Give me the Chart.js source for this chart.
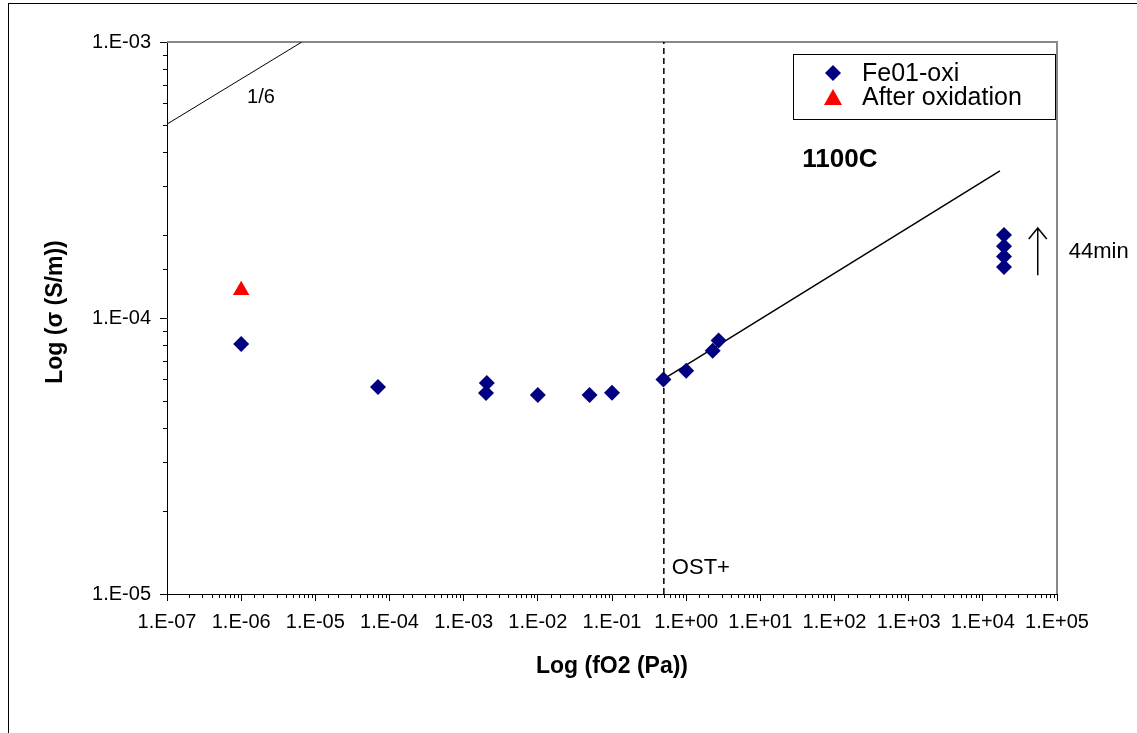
<!DOCTYPE html>
<html>
<head>
<meta charset="utf-8">
<script src="https://cdn.jsdelivr.net/npm/chart.js@4/dist/chart.umd.min.js"></script>
<style>
  html, body { margin:0; padding:0; background:#fff; }
  #wrap { position:relative; width:1137px; height:733px; }
  #frame { position:absolute; left:8px; top:3px; width:1140px; height:740px; border:1px solid #000; box-sizing:border-box; pointer-events:none; }
</style>
</head>
<body>
<div id="wrap">
  <canvas id="c" width="1137" height="733"></canvas>
  <div id="frame"></div>
</div>
<script>
// Fe01-oxi measurements, 1100C
const fo2Pa    = [1e-6, 7.0e-5, 2.05e-3, 2.0e-3, 1e-2, 4.98e-2, 1e-1, 0.494, 1.0, 2.28, 2.74, 1.93e4, 1.93e4, 1.93e4, 1.93e4];
const sigmaSm  = [8.05e-5, 5.62e-5, 5.81e-5, 5.35e-5, 5.26e-5, 5.26e-5, 5.36e-5, 5.99e-5, 6.44e-5, 7.61e-5, 8.28e-5, 2.0e-4, 1.82e-4, 1.67e-4, 1.53e-4];

// after oxidation
const fo2After   = [1e-6];
const sigmaAfter = [1.26e-4];

// fitted 1/6 line through the high-fO2 points
const fitX = [0.494, 1.7e4];
const fitY = [6.0e-5, 3.41e-4];

// reference slope 1/6 (top-left)
const refX = [1e-7, 6.58e-6];
const refY = [5.04e-4, 1e-3];

// OST+ boundary
const ostX = [0.5, 0.5];
const ostY = [1e-5, 1e-3];

// arrow (44min drift)
const arrowX = [5.5e4, 5.5e4];
const arrowY = [1.43e-4, 2.12e-4];

const xTicks = ['1.E-07','1.E-06','1.E-05','1.E-04','1.E-03','1.E-02','1.E-01','1.E+00','1.E+01','1.E+02','1.E+03','1.E+04','1.E+05'];
const yTicks = ['1.E-05','1.E-04','1.E-03'];

const pts = (xs, ys) => xs.map((x,i)=>({x, y: ys[i]}));
const isDecade = v => Math.abs(Math.log10(v) - Math.round(Math.log10(v))) < 1e-6;
const FONT = '"Liberation Sans", Arial, sans-serif';

function decadeLabel(v, list){
  const e = Math.round(Math.log10(v));
  const s = (e < 0 ? '-' : '+') + String(Math.abs(e)).padStart(2,'0');
  const lab = '1.E' + s;
  return list.includes(lab) ? lab : '';
}

const extras = {
  id: 'extras',
  beforeDatasetsDraw(chart){
    const {ctx, chartArea:a} = chart;
    ctx.save();
    ctx.strokeStyle = '#888'; ctx.lineWidth = 2;
    ctx.beginPath();
    ctx.moveTo(a.left, a.top); ctx.lineTo(a.right, a.top); ctx.lineTo(a.right, a.bottom);
    ctx.stroke();
    ctx.restore();
  },
  afterDraw(chart){
    const {ctx, chartArea:a, scales:{x, y}} = chart;
    ctx.save();
    // minor ticks
    ctx.strokeStyle = '#000'; ctx.lineWidth = 1;
    ctx.beginPath();
    x.ticks.forEach(t => { if (!isDecade(t.value)) { const px = Math.round(x.getPixelForValue(t.value)) + 0.5; ctx.moveTo(px, a.bottom); ctx.lineTo(px, a.bottom + 4); } });
    y.ticks.forEach(t => { if (!isDecade(t.value)) { const py = Math.round(y.getPixelForValue(t.value)) + 0.5; ctx.moveTo(a.left, py); ctx.lineTo(a.left - 4, py); } });
    ctx.stroke();

    // arrow
    const ax = x.getPixelForValue(arrowX[0]);
    const y0 = y.getPixelForValue(arrowY[0]), y1 = y.getPixelForValue(arrowY[1]);
    ctx.lineWidth = 1.5;
    ctx.beginPath();
    ctx.moveTo(ax, y0); ctx.lineTo(ax, y1);
    ctx.moveTo(ax - 9, y1 + 11); ctx.lineTo(ax, y1); ctx.lineTo(ax + 9, y1 + 11);
    ctx.stroke();

    // texts
    ctx.fillStyle = '#000';
    ctx.textBaseline = 'middle';
    ctx.textAlign = 'left';
    ctx.font = '22px ' + FONT;
    ctx.fillText('44min', ax + 31, (y0 + y1) / 2);
    ctx.font = '20px ' + FONT;
    ctx.fillText('1/6', x.getPixelForValue(1.2e-6), y.getPixelForValue(6.27e-4));
    ctx.font = '22px ' + FONT;
    ctx.fillText('OST+', x.getPixelForValue(0.5) + 8, y.getPixelForValue(1.24e-5));
    ctx.font = 'bold 26px ' + FONT;
    ctx.fillText('1100C', x.getPixelForValue(36.8), y.getPixelForValue(3.74e-4));

    // legend
    ctx.fillStyle = '#fff';
    ctx.fillRect(793, 54, 263, 66);
    ctx.strokeStyle = '#000'; ctx.lineWidth = 1;
    ctx.strokeRect(793.5, 54.5, 262, 65);
    ctx.fillStyle = '#000080';
    ctx.beginPath(); ctx.moveTo(833, 65); ctx.lineTo(841, 73); ctx.lineTo(833, 81); ctx.lineTo(825, 73); ctx.closePath(); ctx.fill();
    ctx.fillStyle = '#ff0000';
    ctx.beginPath(); ctx.moveTo(833, 89); ctx.lineTo(842, 105); ctx.lineTo(824, 105); ctx.closePath(); ctx.fill();
    ctx.fillStyle = '#000';
    ctx.font = '25px ' + FONT;
    ctx.fillText('Fe01-oxi', 862, 74);
    ctx.fillText('After oxidation', 862, 98);

    // axis titles
    ctx.font = 'bold 23px ' + FONT;
    ctx.textAlign = 'center';
    ctx.fillText('Log (fO2 (Pa))', 612, 667);
    ctx.translate(56, 312);
    ctx.rotate(-Math.PI / 2);
    ctx.fillText('Log (σ (S/m))', 0, 0);
    ctx.restore();
  }
};

new Chart(document.getElementById('c'), {
  type: 'scatter',
  data: {
    datasets: [
      { label: 'Fe01-oxi', data: pts(fo2Pa, sigmaSm), pointStyle: 'rectRot', pointRadius: 8, backgroundColor: '#000080', borderColor: '#000080', borderWidth: 0, order: 1 },
      { label: 'After oxidation', data: pts(fo2After, sigmaAfter), pointStyle: 'triangle', pointRadius: 9.5, backgroundColor: '#ff0000', borderColor: '#ff0000', borderWidth: 0, order: 1 },
      { label: 'fit', data: pts(fitX, fitY), showLine: true, pointRadius: 0, borderColor: '#000', borderWidth: 1.5, order: 2 },
      { label: 'ref', data: pts(refX, refY), showLine: true, pointRadius: 0, borderColor: '#000', borderWidth: 1, order: 2 },
      { label: 'OST+', data: pts(ostX, ostY), showLine: true, pointRadius: 0, borderColor: '#000', borderWidth: 1.5, borderDash: [6, 4], order: 2 }
    ]
  },
  options: {
    responsive: false,
    animation: false,
    layout: { padding: { left: 0, top: 42, right: 80, bottom: 0 } },
    plugins: { legend: { display: false }, tooltip: { enabled: false } },
    scales: {
      x: {
        type: 'logarithmic', min: 1e-7, max: 1e5,
        afterFit: s => { s.height = 139; },
        grid: { drawOnChartArea: false, tickLength: 7, tickColor: c => isDecade(c.tick.value) ? '#000' : 'rgba(0,0,0,0)' },
        border: { color: '#000', width: 1 },
        ticks: { autoSkip: false, maxRotation: 0, padding: 9, color: '#000', font: { family: FONT, size: 20 },
                 callback: v => isDecade(v) ? decadeLabel(v, xTicks) : '' }
      },
      y: {
        type: 'logarithmic', min: 1e-5, max: 1e-3,
        afterFit: s => { s.width = 167; },
        grid: { drawOnChartArea: false, tickLength: 7, tickColor: c => isDecade(c.tick.value) ? '#000' : 'rgba(0,0,0,0)' },
        border: { color: '#000', width: 1 },
        ticks: { autoSkip: false, padding: 9, color: '#000', font: { family: FONT, size: 20 },
                 callback: v => isDecade(v) ? decadeLabel(v, yTicks) : '' }
      }
    }
  },
  plugins: [extras]
});
</script>
</body>
</html>
